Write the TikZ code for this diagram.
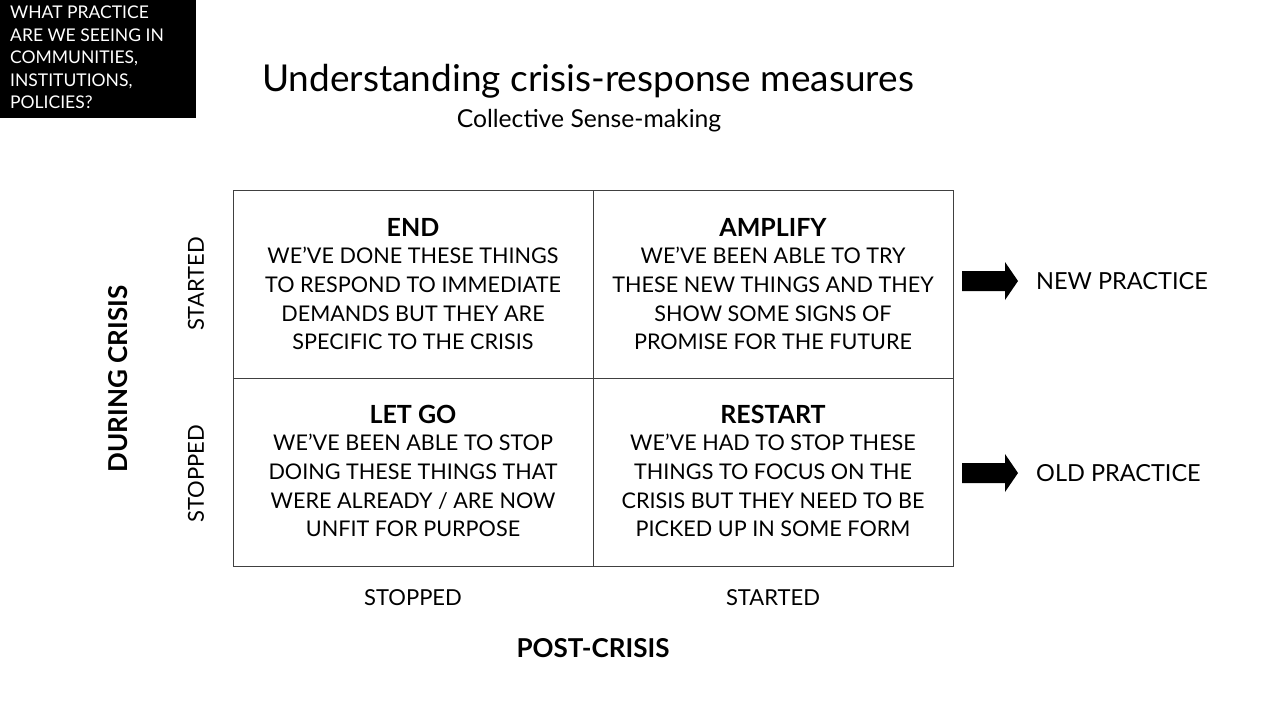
\documentclass[tikz,border=0pt]{standalone}
\usepackage{fontspec}
\setmainfont{Lato}
\begin{document}
\begin{tikzpicture}[x=1pt,y=-1pt,
  cell/.style={align=center,font=\fontsize{21.6}{28.7}\selectfont,inner sep=0pt},
  head/.style={font=\fontsize{25}{28.7}\selectfont\bfseries,inner sep=0pt},
  axis/.style={font=\fontsize{22}{26}\selectfont,inner sep=0pt},
  bold axis/.style={font=\fontsize{26}{30}\selectfont\bfseries,inner sep=0pt},
  grid/.style={draw=black!75,line width=1pt},
  barrow/.style={fill=black}]
\useasboundingbox (0,0) rectangle (1280,720);
\fill[black] (0,0) rectangle (196,118);
\node[anchor=north west,align=left,text=white,font=\fontsize{17.5}{22.5}\selectfont,inner sep=0pt] (q) at (10,6) {WHAT PRACTICE\\ARE WE SEEING IN\\COMMUNITIES,\\INSTITUTIONS,\\POLICIES?};
\node[font=\fontsize{37}{44}\selectfont,inner sep=0pt] (title) at (588,81) {Understanding crisis-response measures};
\node[font=\fontsize{24.7}{28}\selectfont,inner sep=0pt] (sub) at (589,121) {Collective Sense-making};
% grid
\coordinate (tl) at (233,190); \coordinate (tm) at (593,190); \coordinate (tr) at (953,190);
\coordinate (ml) at (233,378); \coordinate (mr) at (953,378);
\coordinate (bl) at (233,566); \coordinate (bm) at (593,566); \coordinate (br) at (953,566);
\draw[grid] (tl) rectangle (br);
\draw[grid] (tm) -- (bm);
\draw[grid] (ml) -- (mr);
% cells
\node[head] (h1) at (413,227) {END};
\node[cell,anchor=north] (c1) at (413,247) {WE’VE DONE THESE THINGS\\TO RESPOND TO IMMEDIATE\\DEMANDS BUT THEY ARE\\SPECIFIC TO THE CRISIS};
\node[head] (h2) at (773,227) {AMPLIFY};
\node[cell,anchor=north] (c2) at (773,247) {WE’VE BEEN ABLE TO TRY\\THESE NEW THINGS AND THEY\\SHOW SOME SIGNS OF\\PROMISE FOR THE FUTURE};
\node[head] (h3) at (413,414) {LET GO};
\node[cell,anchor=north] (c3) at (413,434) {WE’VE BEEN ABLE TO STOP\\DOING THESE THINGS THAT\\WERE ALREADY / ARE NOW\\UNFIT FOR PURPOSE};
\node[head] (h4) at (773,414) {RESTART};
\node[cell,anchor=north] (c4) at (773,434) {WE’VE HAD TO STOP THESE\\THINGS TO FOCUS ON THE\\CRISIS BUT THEY NEED TO BE\\PICKED UP IN SOME FORM};
% axes
\node[bold axis,rotate=90] (during) at (118,379) {DURING CRISIS};
\node[axis,rotate=90] (ystart) at (196,284) {STARTED};
\node[axis,rotate=90] (ystop) at (196,474) {STOPPED};
\node[axis] (xstop) at (413,598) {STOPPED};
\node[axis] (xstart) at (773,598) {STARTED};
\node[bold axis] (post) at (593,648) {POST-CRISIS};
% arrows
\coordinate (a1) at (962,281);
\coordinate (a2) at (962,473);
\foreach \a in {a1,a2}{
  \fill[barrow] (\a) ++(0,-10) -- ++(43,0) -- ++(0,-9) -- ++(13,19) -- ++(-13,19) -- ++(0,-9) -- ++(-43,0) -- cycle;
}
\node[axis,font=\fontsize{23.5}{26}\selectfont,anchor=west] (newp) at (1036,281) {NEW PRACTICE};
\node[axis,font=\fontsize{23.5}{26}\selectfont,anchor=west] (oldp) at (1036,473) {OLD PRACTICE};
\end{tikzpicture}
\end{document}
